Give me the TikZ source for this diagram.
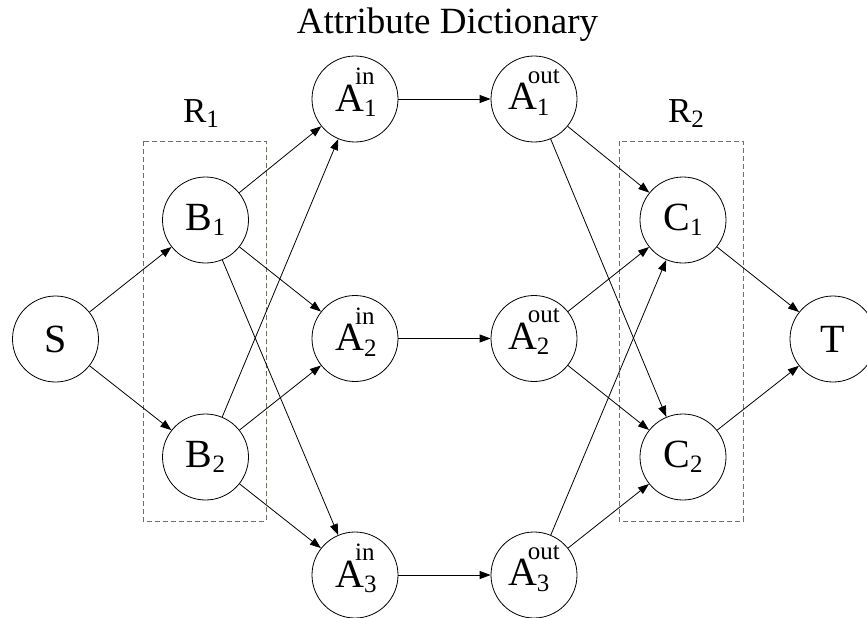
\documentclass[tikz,border=0pt]{standalone}
\usepackage{fontspec}
\setmainfont{Liberation Serif}
\usetikzlibrary{arrows.meta}

\definecolor{regiongrey}{RGB}{112,112,92}

% small-size text used for indices
\newcommand\idxfont{\fontsize{25}{25}\selectfont}
% letter with a lowered index
\newcommand\withsub[2]{#1{\idxfont\raisebox{-5.5pt}{#2}}}
% letter with a lowered index and a raised tag stacked over it
\newcommand\withsubsup[3]{#1{\idxfont\rlap{\raisebox{-5.5pt}{#2}}\kern-9pt\raisebox{26.5pt}{#3}}}

\begin{document}
\begin{tikzpicture}[x=1pt,y=-1pt,
  vertex/.style={circle,draw,line width=0.8pt,minimum size=86pt,inner sep=0pt,
    font=\fontsize{40}{40}\selectfont},
  tagged/.style={vertex,text depth=19pt},
  edge/.style={line width=0.8pt,-{Triangle[length=11pt,width=8pt]}},
  region/.style={draw=regiongrey,line width=1pt,dash pattern=on 5pt off 3pt},
  caption/.style={font=\fontsize{37}{37}\selectfont,inner sep=0pt,anchor=base}]

\useasboundingbox (0,0) rectangle (867,618);

% title and region labels
\node[caption] (title) at (447.5,33.5) {Attribute Dictionary};
\node[caption,font=\fontsize{35}{35}\selectfont] (r1lab) at (201,122) {\withsub{R}{1}};
\node[caption,font=\fontsize{35}{35}\selectfont] (r2lab) at (686,122) {\withsub{R}{2}};

% dashed region frames
\draw[region] (143,141) rectangle (266,521);
\draw[region] (619,141) rectangle (743,521);

% vertices
\node[vertex] (s)  at (55.5,339) {S};
\node[vertex] (b1) at (205.5,220) {\withsub{B}{1}};
\node[vertex] (b2) at (205.5,457) {\withsub{B}{2}};
\node[tagged] (a1i) at (355,99)  {\withsubsup{A}{1}{in}};
\node[tagged] (a2i) at (355,338.5) {\withsubsup{A}{2}{in}};
\node[tagged] (a3i) at (355,575) {\withsubsup{A}{3}{in}};
\node[tagged] (a1o) at (534,99)  {\withsubsup{A}{1}{out}};
\node[tagged] (a2o) at (534,338.5) {\withsubsup{A}{2}{out}};
\node[tagged] (a3o) at (534,575) {\withsubsup{A}{3}{out}};
\node[vertex] (c1) at (683,220) {\withsub{C}{1}};
\node[vertex] (c2) at (683,457) {\withsub{C}{2}};
\node[vertex] (t)  at (833,339) {T};

% connectors
\draw[edge] (s) -- (b1);
\draw[edge] (s) -- (b2);
\foreach \b in {b1,b2}
  \foreach \a in {a1i,a2i,a3i}
    \draw[edge] (\b) -- (\a);
\draw[edge] (a1i) -- (a1o);
\draw[edge] (a2i) -- (a2o);
\draw[edge] (a3i) -- (a3o);
\foreach \a in {a1o,a2o,a3o}
  \foreach \c in {c1,c2}
    \draw[edge] (\a) -- (\c);
\draw[edge] (c1) -- (t);
\draw[edge] (c2) -- (t);
\end{tikzpicture}
\end{document}
